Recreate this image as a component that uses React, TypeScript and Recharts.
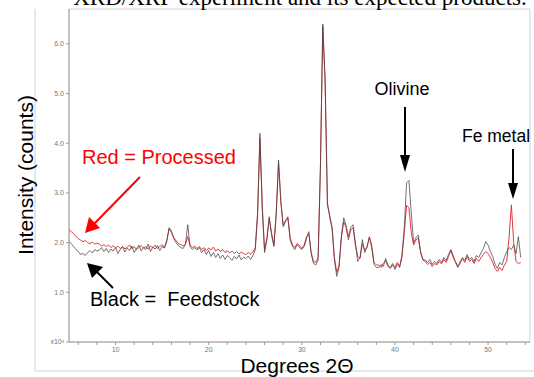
import { LineChart, Line, XAxis, YAxis, ReferenceArea } from 'recharts';

// sampling grid: 5.0 .. 53.5 degrees 2-theta, every 0.25
const START_DEG = 5;
const STEP_DEG = 0.25;

// intensity (x10^3 counts), processed sample (red)
const processed = [
  // 5.0 - 8.0
  2.26, 2.22, 2.18, 2.12, 2.08, 2.05, 2.02, 2.04, 2.0, 1.98, 2.01, 1.97, 1.99,
  // 8.25 - 15.25
  1.97, 1.93, 1.96, 1.92, 1.95, 1.9, 1.94, 1.89, 1.93, 1.88, 1.92, 1.87, 1.91, 1.95, 1.88,
  1.92, 1.86, 1.9, 1.94, 1.89, 1.92, 1.87, 1.93, 1.9, 1.95, 1.88, 1.92, 1.96, 1.9,
  // 15.5 - 18.5
  2.05, 2.28, 2.2, 2.1, 2.04, 1.98, 1.96, 1.93, 1.97, 2.12, 1.95, 1.9, 1.93,
  // 18.75 - 24.75
  1.88, 1.92, 1.86, 1.9, 1.84, 1.89, 1.85, 1.91, 1.83, 1.87, 1.82, 1.86, 1.8,
  1.84, 1.79, 1.83, 1.78, 1.82, 1.77, 1.81, 1.78, 1.76, 1.8, 1.77, 1.81,
  // 25.0 - 31.5
  1.9, 2.6, 4.1, 2.7, 1.85, 2.1, 2.48, 2.2, 1.95, 2.6, 3.6, 2.8, 2.35, 2.45,
  2.5, 2.1, 1.95, 1.9, 1.98, 1.94, 1.88, 1.95, 2.12, 2.18, 1.8, 1.62, 1.6,
  // 31.75 - 33.75
  1.7, 3.6, 6.35, 5.3, 2.8, 2.5, 2.3, 1.7, 1.4,
  // 34.0 - 38.0
  1.55, 2.1, 2.42, 2.3, 2.05, 2.25, 2.3, 1.95, 1.72, 1.68, 1.98, 1.85, 1.9, 2.12, 1.95, 1.6, 1.55,
  // 38.25 - 40.75
  1.55, 1.5, 1.58, 1.64, 1.52, 1.48, 1.55, 1.5, 1.6, 1.52, 1.7,
  // 41.0 - 43.0
  2.2, 2.75, 2.7, 2.2, 1.95, 2.05, 2.1, 1.8, 1.65,
  // 43.25 - 53.5
  1.62, 1.56, 1.6, 1.52, 1.58, 1.55, 1.62, 1.57, 1.66, 1.6, 1.72, 1.84, 1.7, 1.62,
  1.52, 1.58, 1.68, 1.6, 1.72, 1.62, 1.66, 1.58, 1.68, 1.62, 1.7, 1.76, 1.82, 1.78,
  1.7, 1.6, 1.48, 1.42, 1.5, 1.44, 1.55, 1.62, 2.1, 2.76, 2.0, 1.62, 1.58, 1.6,
];

// feedstock (black)
const feedstock = [
  // 5.0 - 8.0
  2.02, 1.98, 1.92, 1.86, 1.82, 1.76, 1.78, 1.74, 1.8, 1.84, 1.79, 1.86, 1.83,
  // 8.25 - 15.25
  1.85, 1.9, 1.82, 1.88, 1.8, 1.87, 1.83, 1.9, 1.78, 1.86, 1.92, 1.81, 1.89, 1.84, 1.93,
  1.8, 1.88, 1.95, 1.83, 1.9, 1.86, 1.97, 1.82, 1.91, 1.87, 1.94, 1.84, 1.92, 1.89,
  // 15.5 - 18.5
  2.02, 2.3, 2.24, 2.08, 2.0, 1.94, 1.9, 1.88, 1.96, 2.36, 1.92, 1.86, 1.9,
  // 18.75 - 24.75
  1.85, 1.9, 1.8, 1.86, 1.76, 1.84, 1.72, 1.8, 1.7, 1.78, 1.68, 1.75, 1.66,
  1.74, 1.7, 1.64, 1.72, 1.67, 1.75, 1.65, 1.71, 1.68, 1.73, 1.66, 1.74,
  // 25.0 - 31.5
  1.85, 2.55, 4.2, 2.75, 1.8, 2.05, 2.52, 2.15, 1.92, 2.55, 3.66, 2.85, 2.32, 2.42,
  2.52, 2.05, 1.92, 1.86, 1.96, 1.9, 1.86, 1.92, 2.08, 2.22, 1.78, 1.58, 1.55,
  // 31.75 - 33.75
  1.65, 3.5, 6.4, 5.2, 2.75, 2.55, 2.28, 1.65, 1.32,
  // 34.0 - 38.0
  1.5, 2.15, 2.5, 2.35, 2.12, 2.3, 2.36, 2.0, 1.62, 1.7, 2.06, 1.8, 1.92, 2.1, 1.9, 1.56, 1.5,
  // 38.25 - 40.75
  1.5, 1.56, 1.52, 1.68, 1.55, 1.5, 1.58, 1.46, 1.56, 1.5, 1.75,
  // 41.0 - 43.0
  2.3, 3.2, 3.25, 2.6, 2.0, 2.1, 2.15, 1.82, 1.66,
  // 43.25 - 53.5
  1.65, 1.6, 1.66, 1.56, 1.62, 1.58, 1.66, 1.6, 1.7, 1.64, 1.76, 1.86, 1.74, 1.6,
  1.5, 1.62, 1.7, 1.64, 1.76, 1.66, 1.7, 1.62, 1.74, 1.7, 1.8, 1.88, 2.02, 1.95,
  1.82, 1.72, 1.56, 1.48, 1.6, 1.55, 1.7, 1.82, 1.9, 1.86, 1.95, 1.78, 2.12, 1.7,
];

const xTicks = [6, 8, 10, 12, 14, 16, 18, 20, 22, 24, 26, 28, 30, 32, 34, 36, 38, 40, 42, 44, 46, 48, 50, 52, 54];
const yTicks = [0, 1, 2, 3, 4, 5, 6];

const data = processed.map((p, i) => ({
  deg: START_DEG + i * STEP_DEG,
  processed: p,
  feedstock: feedstock[i],
}));

const sans = 'Liberation Sans, Arial, sans-serif';

export default function App() {
  return (
    <div style={{ position: 'absolute', left: 0, top: 0, width: 534, height: 377, background: '#fff' }}>
      <LineChart
        width={534}
        height={377}
        data={data}
        margin={{ top: 9, right: 4, left: 0, bottom: 0 }}
      >
        <ReferenceArea x1={5} x2={54.5} y1={0} y2={6.7} fill="none" stroke="#d4d4d4" ifOverflow="visible" />
        <XAxis
          dataKey="deg"
          type="number"
          domain={[5, 54.5]}
          ticks={xTicks}
          height={35}
          tickSize={3}
          stroke="#9a9a9a"
          tickFormatter={(v) => (v % 10 === 0 ? String(v) : '')}
          tick={{ fontSize: 7, fill: '#777', fontFamily: sans }}
        />
        <YAxis
          type="number"
          domain={[0, 6.7]}
          ticks={yTicks}
          width={69}
          tickSize={3}
          stroke="#9a9a9a"
          tickFormatter={(v) => (v === 0 ? 'x10³' : Number(v).toFixed(1))}
          tick={{ fontSize: 7, fill: '#777', fontFamily: sans }}
        />
        <Line
          dataKey="processed"
          stroke="#e8383d"
          strokeWidth={1}
          dot={false}
          isAnimationActive={false}
        />
        <Line
          dataKey="feedstock"
          stroke="#444"
          strokeOpacity={0.75}
          strokeWidth={1}
          dot={false}
          isAnimationActive={false}
        />
      </LineChart>

      {/* annotations */}
      <svg
        width={534}
        height={377}
        style={{ position: 'absolute', left: 0, top: 0, pointerEvents: 'none' }}
      >
        <line x1={35} y1={9} x2={35} y2={371} stroke="#d0d0d0" />
        <line x1={35} y1={371} x2={534} y2={371} stroke="#d0d0d0" />

        <text x={300} y={5} textAnchor="middle" fontSize={23} fontFamily="Liberation Serif, Times New Roman, serif">
          XRD/XRF experiment and its expected products.
        </text>

        <text
          x={0}
          y={0}
          transform="translate(33,175) rotate(-90)"
          textAnchor="middle"
          fontSize={21}
          fontFamily={sans}
        >
          Intensity (counts)
        </text>
        <text x={297} y={373} textAnchor="middle" fontSize={21} fontFamily={sans}>
          Degrees 2Θ
        </text>

        <text x={402} y={95} textAnchor="middle" fontSize={18} fontFamily={sans}>Olivine</text>
        <line x1={405} y1={107} x2={405} y2={158} stroke="#000" strokeWidth={2} />
        <polygon points="400,155 410,155 405,172" fill="#000" />

        <text x={496} y={142} textAnchor="middle" fontSize={17.5} fontFamily={sans}>Fe metal</text>
        <line x1={513} y1={149} x2={513} y2={185} stroke="#000" strokeWidth={2} />
        <polygon points="508,183 518,183 513,199" fill="#000" />

        <text x={82} y={164} fontSize={20} fill="#ff0000" fontFamily={sans}>Red = Processed</text>
        <line x1={140} y1={177} x2={94} y2={224} stroke="#ff0000" strokeWidth={2} />
        <polygon points="85,233 89,217 100,228" fill="#ff0000" />

        <text x={90} y={306} fontSize={20} fontFamily={sans} style={{ whiteSpace: 'pre' }}>
          {'Black =  Feedstock'}
        </text>
        <line x1={113} y1={288} x2={96} y2={271} stroke="#000" strokeWidth={2} />
        <polygon points="87,263 103,267 92,278" fill="#000" />
      </svg>
    </div>
  );
}
